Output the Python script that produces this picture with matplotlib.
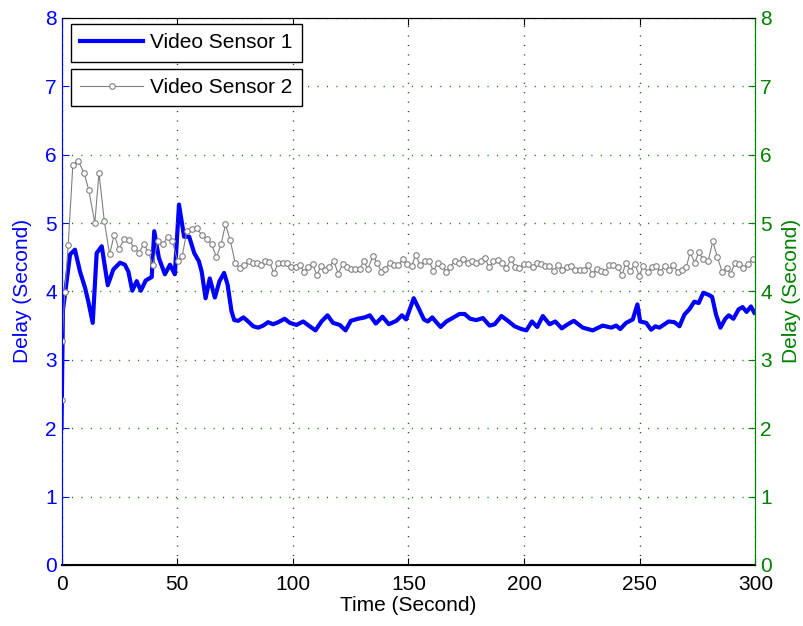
import numpy as np
import matplotlib
matplotlib.use("Agg")
import matplotlib.pyplot as plt

plt.rcParams['font.family'] = ['Liberation Sans', 'DejaVu Sans']

# ── Data ──────────────────────────────────────────────────────────────────────
# Video Sensor 1 (thick blue line), time / delay pairs
t1 = [0.0, 0.6, 3.7, 5.8, 8.0, 10.2, 11.6, 13.5, 15.2, 17.4, 20.0, 22.4, 25.3,
      27.4, 28.9, 30.6, 32.5, 34.3, 36.4, 39.0, 40.1, 42.1, 44.7, 46.9, 49.0,
      50.8, 53.0, 55.2, 57.4, 59.4, 60.6, 62.3, 64.1, 66.3, 68.3, 70.3, 71.8,
      73.5, 74.7, 76.4, 78.7, 80.7, 82.9, 85.0, 87.2, 89.3, 91.5, 93.7, 96.5,
      98.7, 101.6, 104.5, 107.3, 109.8, 112.4, 115.0, 117.4, 120.3, 122.8,
      125.1, 128.2, 131.1, 133.3, 135.9, 138.8, 141.5, 144.8, 147.2, 149.0,
      152.3, 154.6, 156.7, 158.4, 160.3, 162.3, 163.9, 166.4, 169.5, 172.1,
      174.3, 176.7, 179.3, 182.2, 185.1, 187.3, 190.2, 193.0, 195.9, 198.8,
      201.0, 203.4, 205.7, 208.1, 211.0, 213.5, 216.3, 218.9, 221.5, 225.4,
      229.7, 234.0, 237.7, 239.8, 241.6, 244.1, 247.0, 249.0, 250.2, 252.8,
      254.9, 256.8, 258.5, 260.7, 262.5, 265.0, 267.2, 269.3, 271.5, 273.6,
      275.5, 277.5, 279.8, 281.3, 283.0, 284.9, 287.0, 288.5, 290.5, 292.8,
      294.5, 296.2, 298.1, 299.5]
v1 = [2.00, 3.72, 4.54, 4.61, 4.29, 4.05, 3.85, 3.54, 4.56, 4.66, 4.09, 4.32,
      4.42, 4.39, 4.29, 4.01, 4.15, 4.01, 4.16, 4.21, 4.88, 4.49, 4.25, 4.39,
      4.25, 5.27, 4.80, 4.80, 4.56, 4.44, 4.29, 3.90, 4.19, 3.91, 4.15, 4.27,
      4.10, 3.71, 3.58, 3.57, 3.62, 3.56, 3.49, 3.47, 3.50, 3.55, 3.52, 3.55,
      3.60, 3.54, 3.51, 3.56, 3.49, 3.43, 3.56, 3.65, 3.54, 3.51, 3.43, 3.57,
      3.60, 3.62, 3.65, 3.53, 3.63, 3.52, 3.57, 3.65, 3.59, 3.90, 3.74, 3.59,
      3.56, 3.62, 3.54, 3.48, 3.56, 3.62, 3.67, 3.67, 3.60, 3.58, 3.61, 3.50,
      3.52, 3.64, 3.57, 3.49, 3.45, 3.43, 3.56, 3.48, 3.64, 3.52, 3.56, 3.46,
      3.52, 3.57, 3.47, 3.43, 3.50, 3.47, 3.50, 3.45, 3.54, 3.59, 3.81, 3.56,
      3.54, 3.44, 3.49, 3.47, 3.52, 3.56, 3.55, 3.49, 3.66, 3.74, 3.85, 3.83,
      3.98, 3.95, 3.92, 3.66, 3.47, 3.60, 3.65, 3.60, 3.74, 3.77, 3.70, 3.78,
      3.69]

# Video Sensor 2 (gray line with circles), time / delay pairs
t2 = [0.0, 0.3, 1.4,
      2.9, 4.9, 7.2, 9.8, 11.8, 14.4, 16.2, 18.5, 20.8, 22.8, 24.8, 27.1, 29.1,
      31.5, 33.5, 35.5, 37.5, 39.5, 41.6, 43.9, 45.9, 47.9, 50.2, 52.2, 54.2, 56.6,
      58.5, 60.8, 62.9, 64.9, 67.0, 69.0, 70.9, 72.9, 75.1, 77.1, 79.0, 80.9,
      82.7, 84.4, 86.3, 88.0, 89.9, 91.8, 93.8, 95.7, 97.5,
      99.1, 101.2, 103.0, 104.9, 106.6, 108.6, 110.4, 112.2, 114.1, 115.8, 117.7,
      119.6, 121.6, 123.3, 125.2, 127.1, 128.9, 130.7, 132.5, 134.6, 136.4, 138.3,
      139.9, 141.9, 143.8, 145.7, 147.5, 149.4, 151.4, 153.1, 155.2, 157.0, 158.9,
      160.8, 162.6, 164.5, 166.4, 168.1, 170.0, 171.8, 173.7, 175.6, 177.5, 179.4,
      181.2, 182.9, 185.0, 186.7, 188.7, 190.6, 192.4, 194.3, 196.2, 197.9, 199.8,
      201.6, 203.7, 205.4, 207.3, 209.1, 210.9, 212.9, 214.6, 216.5, 218.4, 220.2,
      222.1, 224.0, 225.8, 227.7, 229.5, 231.4, 233.3, 235.1, 236.6, 238.4, 240.5,
      242.3, 244.1, 246.0, 247.9, 249.8, 251.5, 253.4, 255.2, 257.2, 258.9, 260.8,
      262.6, 264.6, 266.4, 268.3, 270.1, 271.8, 273.8, 275.5, 277.5, 279.6, 281.6,
      283.6, 285.6, 287.6, 289.3, 291.1, 293.1, 294.8, 296.8, 298.8]
v2 = [2.41, 3.27, 3.99,
      4.68, 5.85, 5.91, 5.73, 5.48, 5.00, 5.73, 5.03, 4.54, 4.83, 4.62, 4.76, 4.75,
      4.64, 4.56, 4.69, 4.58, 4.38, 4.74, 4.69, 4.80, 4.74, 4.44, 4.52, 4.88, 4.91,
      4.92, 4.82, 4.77, 4.69, 4.50, 4.69, 4.98, 4.75, 4.42, 4.34, 4.38, 4.44,
      4.41, 4.41, 4.38, 4.44, 4.43, 4.27, 4.42, 4.42, 4.41,
      4.35, 4.36, 4.38, 4.29, 4.36, 4.40, 4.24, 4.37, 4.32, 4.36, 4.45,
      4.26, 4.40, 4.35, 4.33, 4.33, 4.33, 4.44, 4.33, 4.52, 4.42, 4.29,
      4.33, 4.41, 4.38, 4.38, 4.47, 4.40, 4.37, 4.53, 4.38, 4.44, 4.44,
      4.30, 4.41, 4.37, 4.29, 4.36, 4.44, 4.42, 4.47, 4.41, 4.45, 4.42,
      4.44, 4.49, 4.35, 4.44, 4.46, 4.42, 4.34, 4.47, 4.36, 4.34, 4.40,
      4.40, 4.35, 4.41, 4.40, 4.37, 4.37, 4.30, 4.39, 4.32, 4.35, 4.37,
      4.32, 4.32, 4.32, 4.38, 4.25, 4.33, 4.30, 4.29, 4.38, 4.39, 4.36,
      4.24, 4.42, 4.30, 4.40, 4.23, 4.37, 4.29, 4.35, 4.37, 4.29, 4.37,
      4.31, 4.39, 4.28, 4.31, 4.35, 4.57, 4.42, 4.57, 4.47, 4.45, 4.73,
      4.50, 4.29, 4.34, 4.25, 4.42, 4.40, 4.34, 4.40, 4.48]

xticks = [0, 50, 100, 150, 200, 250, 300]
yticks = [0, 1, 2, 3, 4, 5, 6, 7, 8]

# ── Plot ──────────────────────────────────────────────────────────────────────
BLUE = "#0000ff"
GREEN = "#008000"
GRAY = "#808080"
FS = 15

fig = plt.figure(figsize=(8.04, 6.26), dpi=100)
ax1 = fig.add_axes([0.0765, 0.0975, 0.863, 0.874])
ax2 = ax1.twinx()

l1, = ax1.plot(t1, v1, color=BLUE, linewidth=3.0, label="Video Sensor 1")
l2, = ax2.plot(t2, v2, color=GRAY, linewidth=0.8, marker="o", markersize=4,
               markerfacecolor="white", markeredgecolor=GRAY,
               markeredgewidth=0.8, label="Video Sensor 2")

for ax in (ax1, ax2):
    ax.set_xlim(0, 300)
    ax.set_ylim(0, 8)
    ax.set_yticks(yticks)
    ax.set_xticks(xticks)

ax1.tick_params(axis="y", colors=BLUE, direction="in", labelsize=FS, length=5)
ax1.tick_params(axis="x", colors="black", direction="in", labelsize=FS,
                length=5, top=True, pad=7)
ax2.tick_params(axis="y", colors=GREEN, direction="in", labelsize=FS, length=5)

ax1.spines["left"].set_color(BLUE)
ax2.spines["left"].set_color(BLUE)
ax2.spines["right"].set_color(GREEN)
ax1.spines["right"].set_color(GREEN)
ax1.spines["bottom"].set_linewidth(1.5)

# MATLAB-like sparse dotted grids
ax1.grid(True, axis="x", color="#333333", linestyle=(0, (0.8, 6)), linewidth=1)
ax2.grid(True, axis="y", color=GREEN, linestyle=(0, (0.8, 6)), linewidth=1)

ax1.set_xlabel("Time (Second)", fontsize=FS, labelpad=2)
ax1.set_ylabel("Delay (Second)", fontsize=FS, color=BLUE, labelpad=9)
ax2.set_ylabel("Delay (Second)", fontsize=FS, color=GREEN, rotation=90,
               labelpad=7)

leg_kw = dict(loc="upper left", fontsize=FS, fancybox=False, framealpha=1,
              edgecolor="black", handlelength=3.0, handletextpad=0.35,
              borderpad=0.45, borderaxespad=0, numpoints=1)
leg1 = ax2.legend(handles=[l1], bbox_to_anchor=(0.0137, 0.989), **leg_kw)
ax2.add_artist(leg1)
leg2 = ax2.legend(handles=[l2], bbox_to_anchor=(0.0137, 0.907), **leg_kw)
for lg in (leg1, leg2):
    lg.get_frame().set_linewidth(1.0)

fig.savefig("out.png", dpi=100)
